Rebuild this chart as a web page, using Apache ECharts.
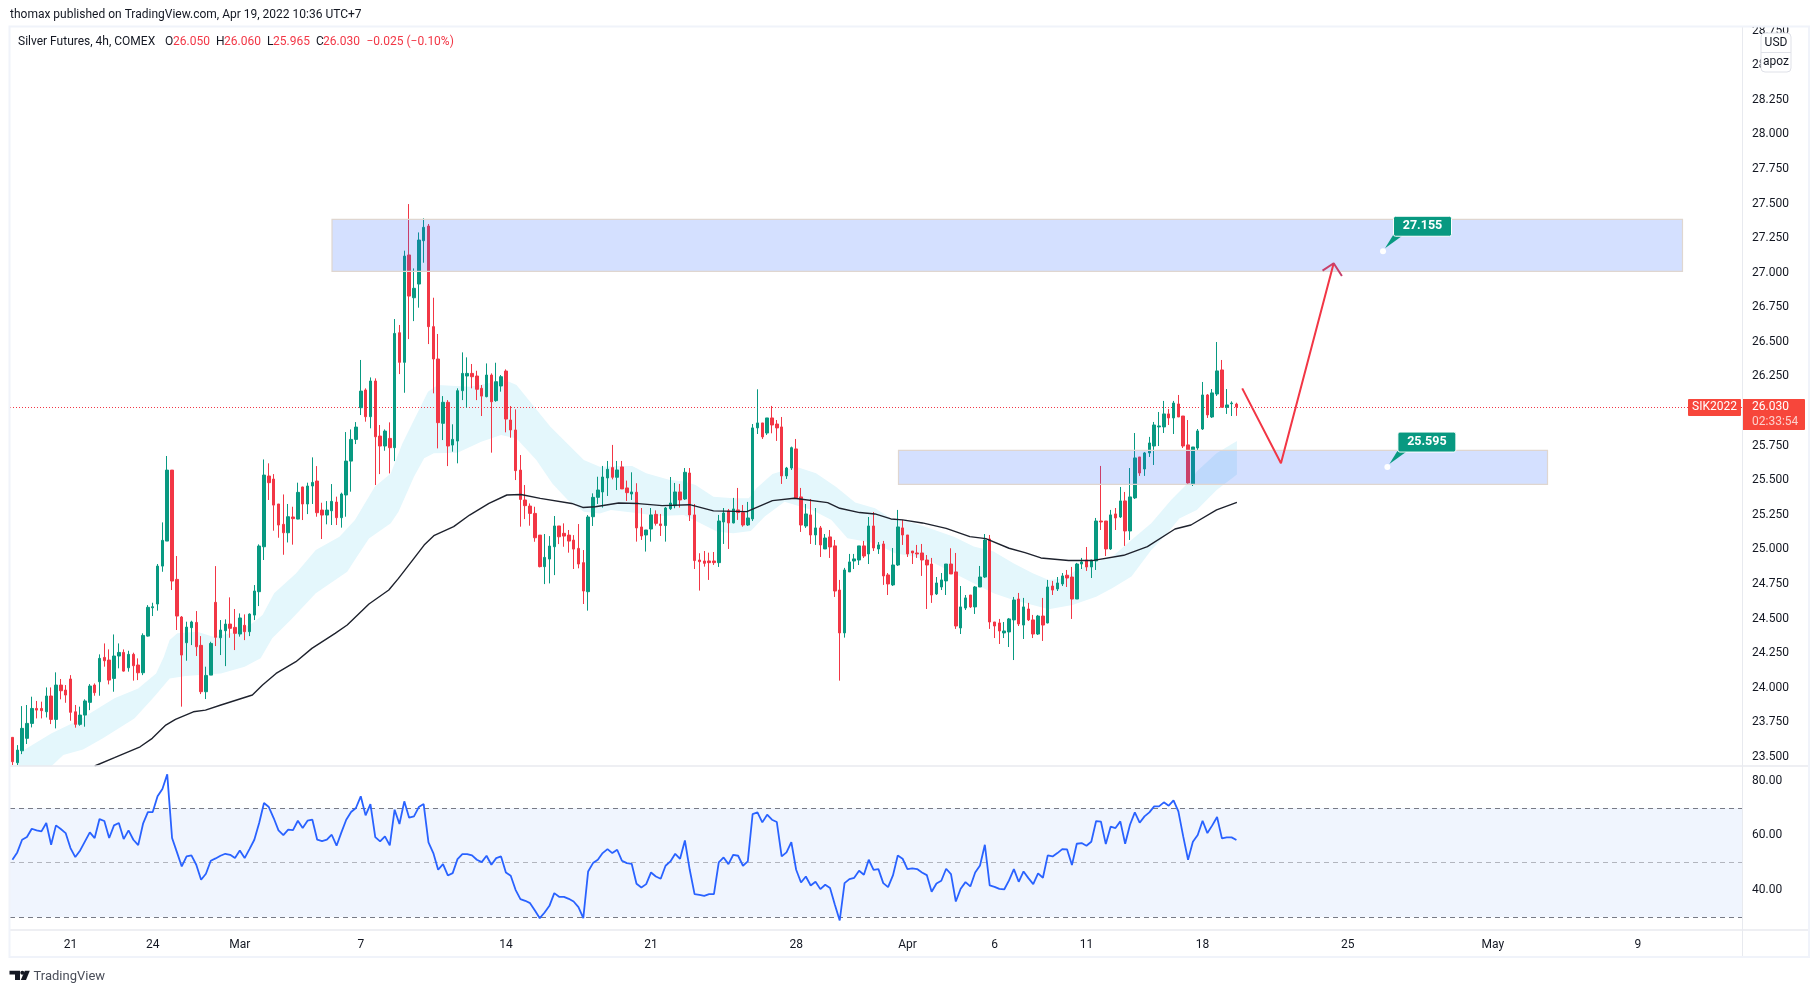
<!DOCTYPE html>
<html><head><meta charset="utf-8">
<style>html,body{margin:0;padding:0;background:#fff}#c{width:1820px;height:993px}</style>
<script src="https://cdn.jsdelivr.net/npm/echarts@6/dist/echarts.min.js"></script>
</head><body><div id="c"></div>
<script>
const bodyTop=[23.641,23.549,23.706,23.742,23.850,23.850,23.850,23.940,23.940,24.019,24.019,23.983,24.063,23.826,23.802,23.904,24.012,24.019,24.212,24.219,24.200,24.229,24.255,24.255,24.241,24.241,24.164,24.378,24.581,24.585,24.879,25.065,25.573,25.573,24.783,24.511,24.438,24.475,24.472,24.306,24.089,24.320,24.617,24.417,24.460,24.460,24.436,24.504,24.451,24.532,24.699,25.024,25.537,25.530,25.508,25.328,25.181,25.236,25.234,25.412,25.451,25.458,25.484,25.494,25.284,25.284,25.347,25.342,25.400,25.638,25.795,25.884,26.144,26.152,26.217,26.217,25.819,25.855,25.802,26.561,26.566,27.120,27.128,26.887,27.236,27.328,27.337,26.610,26.376,26.063,26.063,25.795,26.147,26.272,26.272,26.272,26.253,26.164,26.260,26.260,26.212,26.248,26.289,25.935,25.863,25.573,25.357,25.313,25.260,25.103,24.942,25.024,25.169,25.169,25.116,25.103,25.067,25.007,24.904,25.234,25.376,25.429,25.523,25.579,25.591,25.574,25.596,25.444,25.415,25.413,25.162,25.140,25.249,25.253,25.184,25.299,25.335,25.415,25.415,25.557,25.552,25.249,24.923,24.916,24.916,24.916,25.205,25.263,25.278,25.292,25.285,25.266,25.227,25.878,25.914,25.914,25.950,25.950,25.906,25.885,25.588,25.735,25.726,25.379,25.256,25.249,25.155,25.155,25.082,25.090,25.025,24.706,24.851,24.909,24.931,25.025,25.025,25.169,25.169,25.032,25.039,24.815,24.887,25.162,25.155,25.104,24.988,24.974,24.974,24.923,24.894,24.757,24.779,24.894,24.894,24.837,24.584,24.649,24.670,24.728,24.800,25.068,25.075,24.475,24.468,24.410,24.497,24.634,24.641,24.584,24.569,24.490,24.518,24.518,24.728,24.735,24.757,24.808,24.813,24.800,24.894,24.909,24.923,24.923,25.205,25.205,25.205,25.249,25.256,25.350,25.350,25.379,25.661,25.668,25.697,25.769,25.899,25.892,25.979,25.979,26.058,26.051,25.964,25.755,25.740,25.856,26.116,26.116,26.131,26.290,26.297,26.044,26.058,26.050];
const bodyBottom=[23.465,23.458,23.544,23.634,23.742,23.838,23.834,23.826,23.771,23.771,23.978,23.947,23.822,23.735,23.735,23.802,23.894,23.964,24.043,24.195,24.055,24.067,24.229,24.120,24.144,24.159,24.108,24.108,24.373,24.578,24.605,24.879,25.060,24.771,24.518,24.236,24.325,24.434,24.296,23.971,23.971,24.091,24.364,24.361,24.412,24.429,24.393,24.388,24.405,24.405,24.525,24.694,25.019,25.482,25.320,25.176,25.120,25.120,25.222,25.219,25.328,25.328,25.458,25.265,25.248,25.248,25.279,25.229,25.229,25.393,25.638,25.795,26.024,25.959,25.959,25.814,25.747,25.747,25.735,25.735,26.352,26.352,26.831,26.819,26.918,27.231,26.610,26.376,25.916,25.911,25.747,25.754,25.783,26.147,26.253,26.248,26.157,26.108,26.104,26.067,26.075,26.181,25.942,25.863,25.569,25.361,25.316,25.260,25.084,24.875,24.875,24.930,25.019,25.091,25.096,25.060,25.002,24.894,24.699,24.694,25.236,25.376,25.415,25.516,25.521,25.521,25.437,25.410,25.400,25.155,25.097,25.104,25.147,25.188,25.172,25.172,25.294,25.316,25.357,25.364,25.249,24.919,24.911,24.899,24.904,24.904,24.904,25.198,25.191,25.191,25.266,25.176,25.176,25.220,25.878,25.813,25.841,25.899,25.878,25.531,25.531,25.588,25.372,25.176,25.169,25.104,25.104,25.032,25.003,25.017,24.699,24.396,24.396,24.837,24.916,24.923,24.952,24.967,25.010,25.003,24.808,24.750,24.743,24.887,25.104,24.967,24.974,24.967,24.923,24.887,24.670,24.678,24.728,24.772,24.822,24.446,24.432,24.576,24.584,24.584,24.728,24.800,24.475,24.446,24.410,24.396,24.403,24.490,24.461,24.453,24.490,24.388,24.388,24.453,24.468,24.706,24.714,24.750,24.793,24.641,24.641,24.894,24.873,24.873,24.916,25.198,25.003,25.003,25.227,25.234,25.133,25.133,25.372,25.552,25.581,25.697,25.747,25.885,25.885,25.950,25.950,25.957,25.747,25.480,25.473,25.733,25.870,25.972,25.957,26.123,26.027,26.027,26.053,26.030];
const highs=[23.641,23.585,23.867,23.875,23.935,23.904,23.899,24.002,24.002,24.111,24.063,24.019,24.091,23.875,23.863,23.916,24.026,24.031,24.241,24.320,24.277,24.385,24.320,24.277,24.267,24.253,24.212,24.393,24.597,24.614,24.894,25.195,25.675,25.573,24.952,24.518,24.477,24.484,24.554,24.373,24.152,24.332,24.879,24.489,24.494,24.653,24.569,24.537,24.530,24.537,24.742,25.036,25.650,25.622,25.544,25.328,25.397,25.328,25.308,25.482,25.453,25.482,25.665,25.602,25.337,25.349,25.472,25.381,25.410,25.848,25.867,25.920,26.369,26.164,26.243,26.236,25.899,25.867,25.918,26.665,26.622,27.159,27.496,27.031,27.291,27.393,27.352,26.819,26.557,26.108,26.079,25.904,26.164,26.424,26.388,26.340,26.291,26.188,26.344,26.272,26.349,26.260,26.301,26.036,26.012,25.682,25.465,25.332,25.308,25.103,25.111,25.096,25.241,25.169,25.188,25.140,25.103,25.183,24.995,25.248,25.405,25.525,25.603,25.639,25.755,25.639,25.639,25.497,25.557,25.478,25.299,25.140,25.299,25.282,25.256,25.306,25.523,25.480,25.473,25.588,25.588,25.328,24.972,24.988,24.976,24.981,25.249,25.299,25.292,25.372,25.444,25.321,25.343,25.906,26.157,25.914,25.950,26.037,25.935,25.957,25.596,25.743,25.798,25.444,25.328,25.364,25.299,25.169,25.111,25.140,25.068,24.779,24.866,24.967,24.967,25.025,25.061,25.234,25.270,25.053,25.061,24.829,25.010,25.285,25.213,25.104,24.988,25.032,25.039,24.959,24.938,24.800,24.829,24.894,25.008,24.974,24.735,24.670,24.670,24.735,24.880,25.111,25.104,24.475,24.497,24.475,24.504,24.656,24.685,24.649,24.613,24.526,24.526,24.649,24.779,24.772,24.800,24.829,24.851,24.873,24.902,24.938,25.017,24.923,25.227,25.603,25.205,25.285,25.299,25.451,25.415,25.588,25.841,25.668,25.704,25.813,25.921,25.993,26.073,26.015,26.073,26.116,25.964,25.935,25.740,25.870,26.210,26.123,26.159,26.499,26.369,26.159,26.070,26.060];
const lows=[23.441,23.441,23.520,23.593,23.713,23.778,23.778,23.785,23.737,23.706,23.916,23.891,23.761,23.711,23.725,23.718,23.838,23.942,23.942,24.152,24.024,23.971,24.140,24.116,24.116,24.051,24.055,24.091,24.369,24.518,24.557,24.838,25.060,24.706,24.417,23.863,24.195,24.308,24.229,23.954,23.918,24.091,24.301,24.236,24.156,24.361,24.272,24.369,24.344,24.373,24.489,24.590,24.923,25.357,25.135,25.084,24.961,25.050,25.034,25.217,25.212,25.255,25.328,25.236,25.075,25.181,25.176,25.176,25.157,25.236,25.417,25.761,25.971,25.923,25.875,25.465,25.544,25.713,25.549,25.638,26.267,26.132,26.520,26.650,26.747,27.072,26.484,26.128,25.730,25.790,25.602,25.706,25.622,26.079,26.024,26.164,26.079,25.964,26.099,25.699,26.067,26.140,25.846,25.807,25.501,25.164,25.219,25.171,25.055,24.870,24.749,24.754,24.814,25.038,25.019,24.976,24.858,24.863,24.605,24.557,25.169,25.328,25.302,25.386,25.506,25.429,25.437,25.350,25.357,25.056,25.068,24.984,25.056,25.172,25.097,25.056,25.285,25.297,25.302,25.357,25.205,24.858,24.702,24.875,24.779,24.887,24.873,25.039,25.003,25.188,25.213,25.164,25.169,25.205,25.834,25.798,25.827,25.839,25.784,25.473,25.509,25.574,25.372,25.126,25.155,25.039,25.032,24.945,25.003,24.938,24.656,24.051,24.362,24.837,24.858,24.887,24.938,24.894,24.988,24.967,24.743,24.670,24.735,24.880,25.032,24.945,24.894,24.938,24.808,24.569,24.613,24.670,24.706,24.670,24.822,24.425,24.388,24.562,24.576,24.533,24.728,24.793,24.425,24.359,24.316,24.359,24.294,24.200,24.446,24.352,24.482,24.359,24.381,24.338,24.465,24.670,24.699,24.735,24.728,24.497,24.641,24.858,24.844,24.793,24.851,25.140,24.952,24.996,25.140,25.227,25.025,25.068,25.364,25.531,25.531,25.668,25.610,25.747,25.841,25.899,25.834,25.957,25.733,25.473,25.458,25.711,25.863,25.950,25.950,26.109,26.027,25.979,25.964,25.965];
const fallingCandles=[0,5,6,8,10,11,12,13,17,19,20,23,25,26,33,34,35,38,39,42,45,46,48,53,54,55,56,58,60,63,64,67,73,75,76,78,80,82,86,87,88,90,95,96,97,99,102,103,104,105,106,107,108,109,113,114,115,116,117,118,124,126,127,129,130,133,134,138,140,141,142,143,144,145,148,150,151,155,157,158,159,162,163,165,167,169,170,171,176,178,180,181,184,185,186,187,188,189,190,194,195,198,202,203,204,208,210,211,213,215,218,219,222,225,226,228,230,233,239,241,242,243,247,250,253];
const rsiValues=[51.04,53.73,58.38,59.36,62.41,61.80,61.44,64.49,56.54,63.64,62.29,60.82,55.32,52.02,54.46,57.77,61.07,59.0,65.96,65.23,59.0,63.64,64.49,58.62,61.80,58.38,56.42,64.25,68.53,68.53,74.28,76.97,82.35,59.0,53.85,48.59,52.26,52.63,49.21,43.70,45.90,50.67,51.53,52.51,53.24,52.87,51.65,54.46,51.65,54.95,58.38,64.49,71.83,70.36,66.33,61.80,60.09,62.05,61.93,65.35,62.66,65.35,65.72,58.38,57.89,58.38,60.21,56.18,61.07,65.72,68.53,70.0,74.28,67.31,71.46,59.36,57.77,59.60,56.30,69.39,64.13,72.44,66.45,66.94,70.36,71.46,57.40,53.49,47.37,49.45,45.29,46.15,51.28,53.12,53.12,52.63,51.04,50.18,52.51,49.21,51.65,52.26,46.39,45.17,40.03,36.61,36.0,35.14,32.45,29.64,31.72,34.16,38.81,37.46,37.46,36.73,35.75,33.67,29.64,46.76,49.82,51.04,53.49,54.95,53.49,54.71,50.67,49.82,49.57,42.24,40.89,42.11,46.39,44.92,44.07,48.84,50.43,53.24,51.41,58.13,47.37,38.44,38.2,37.83,38.44,38.44,50.06,51.90,49.45,52.87,52.51,48.84,50.43,67.80,68.41,64.74,67.55,65.72,64.86,52.26,53.73,57.52,47.37,42.72,44.92,41.62,42.97,40.28,41.87,40.65,34.53,28.78,42.48,43.95,44.44,47.0,45.54,51.04,47.37,47.62,42.48,41.01,45.29,52.63,51.41,47.62,47.86,47.62,46.39,45.41,39.30,42.36,43.34,47.74,45.78,35.75,40.40,42.85,41.26,46.39,48.96,56.54,41.62,41.13,40.40,40.16,43.46,47.62,42.97,46.76,44.31,42.11,46.03,44.44,52.63,52.26,53.49,54.95,54.83,49.08,56.91,57.16,56.18,57.65,65.23,64.98,56.79,63.15,62.66,65.10,56.91,63.88,68.41,64.62,66.94,68.41,70.61,70.61,72.08,70.85,72.81,68.77,59.60,51.04,57.65,60.09,65.35,60.82,63.64,66.69,58.87,59.23,59.23,58.26];

const emaX=[17.0,21.1,26.4,28.9,31.7,33.7,37.4,39.9,43.1,49.6,51.7,54.5,58.6,61.9,66.7,69.2,73.7,77.8,79.8,83.0,85.1,87.1,91.2,94.5,98.5,102.2,105.1,109.1,115.6,117.9,120.5,125.3,129.4,134.3,140.0,144.9,151.8,157.1,161.6,168.5,171.0,175.1,178.3,181.6,184.0,188.1,193.0,197.9,201.2,206.0,209.3,212.6,218.3,223.2,229.7,234.6,240.3,243.6,248.9,253.1];
const emaY=[23.434,23.494,23.573,23.634,23.730,23.771,23.826,23.838,23.875,23.947,24.019,24.103,24.188,24.284,24.393,24.453,24.605,24.706,24.790,24.935,25.031,25.099,25.164,25.248,25.332,25.393,25.397,25.369,25.332,25.303,25.308,25.335,25.331,25.316,25.323,25.278,25.273,25.352,25.369,25.338,25.297,25.266,25.256,25.220,25.213,25.191,25.152,25.092,25.078,25.008,24.976,24.938,24.919,24.919,24.957,25.020,25.147,25.176,25.285,25.340];
const bandUpperX=[1.1,2.4,8.1,13.8,21.1,26.0,29.7,31.3,32.5,34.1,38.2,41.5,46.4,49.6,51.7,54.1,58.6,62.7,67.6,70.8,74.9,78.2,80.6,83.0,85.9,87.9,94.5,98.5,101.8,104.2,106.7,111.2,118.1,121.4,125.3,128.1,131.0,135.9,138.8,141.2,144.9,149.0,152.2,153.8,157.1,162.0,166.1,170.2,174.2,178.3,181.6,186.5,190.6,194.6,198.7,202.8,206.9,210.9,214.2,217.5,219.9,224.0,227.3,231.3,235.4,239.5,243.6,244.8,248.9,253.1];
const bandUpperY=[23.513,23.549,23.670,23.766,23.923,23.995,24.103,24.224,24.344,24.393,24.405,24.369,24.405,24.465,24.525,24.682,24.826,24.995,25.091,25.212,25.453,25.549,25.766,25.935,26.140,26.188,26.176,26.200,26.224,26.188,26.079,25.887,25.646,25.597,25.603,25.603,25.550,25.502,25.490,25.466,25.381,25.369,25.369,25.441,25.545,25.598,25.550,25.453,25.338,25.297,25.225,25.188,25.140,25.092,25.020,24.984,24.899,24.827,24.779,24.791,24.851,24.911,24.947,25.068,25.188,25.357,25.502,25.562,25.694,25.783];
const bandLowerX=[1.1,8.1,10.5,14.6,18.7,25.2,29.3,32.5,35.8,43.1,48.0,51.3,53.7,57.8,62.7,69.2,71.2,73.7,78.2,79.8,83.0,85.1,87.1,92.0,96.9,101.0,104.2,108.3,111.6,114.8,118.1,121.4,123.7,129.4,133.5,138.8,141.6,145.7,149.0,152.6,155.5,159.6,165.3,169.3,172.6,178.3,182.4,186.5,190.6,194.6,198.7,202.8,206.9,210.9,214.2,219.1,224.0,227.3,231.3,235.4,238.7,241.2,244.8,248.9,253.1];
const bandLowerY=[23.434,23.434,23.513,23.554,23.634,23.778,23.935,24.067,24.084,24.103,24.152,24.212,24.357,24.501,24.682,24.838,24.947,25.079,25.188,25.272,25.525,25.658,25.694,25.699,25.778,25.826,25.802,25.646,25.477,25.357,25.272,25.260,25.285,25.261,25.241,25.249,25.200,25.128,25.116,25.133,25.237,25.345,25.285,25.213,25.080,25.044,24.972,24.947,24.899,24.827,24.755,24.682,24.634,24.598,24.567,24.598,24.658,24.718,24.803,24.996,25.116,25.224,25.285,25.429,25.542];

const zones=[[66.06,27.386,345.2,27.01],[183.15,25.716,317.3,25.47]];
const projectionX=[254.2,262.2,273.1];
const projectionY=[26.164,25.622,27.068];
const arrowHeadX=[270.8,273.1,274.8];
const arrowHeadY=[27.015,27.068,26.976];
const callouts=[[283.3,27.155],[284.2,25.595]];
const lastClose=26.030, countdown='02:33:54', symbolTag='SIK2022';

const priceTicks=[23.5,23.75,24,24.25,24.5,24.75,25,25.25,25.5,25.75,26,26.25,26.5,26.75,27,27.25,27.5,27.75,28,28.25,28.5,28.75];
const rsiTicks=[40,60,80];
const rsiLevels=[70,50,30];
const timeTickIndex=[12,29,47,72,102,132,162,185,203,222,246,276,306,336];
const timeTickLabels=['21','24','Mar','7','14','21','28','Apr','6','11','18','25','May','9'];
const barSlots=358;

const GREEN='#089981',RED='#f23645',TAG='#f7463b',INK='#131722',FONT='Roboto, "Liberation Sans", sans-serif';
const falling=new Set(fallingCandles);
const candles=bodyTop.map((t,i)=>falling.has(i)?[t,bodyBottom[i],lows[i],highs[i]]:[bodyBottom[i],t,lows[i],highs[i]]);
const cats=Array.from({length:barSlots},(_,i)=>String(i));
const zip=(a,b)=>a.map((v,i)=>[v,b[i]]);

const txt=(x,y,text,fill,extra)=>({type:'text',x,y,z:110,silent:true,style:Object.assign({text,fill,font:'12px '+FONT,textVerticalAlign:'middle'},extra||{})});
const hline=(x1,y,x2,c,w)=>({type:'line',z:105,silent:true,shape:{x1,y1:y,x2,y2:y},style:{stroke:c,lineWidth:w}});
const vline=(x,y1,y2,c,w)=>({type:'line',z:105,silent:true,shape:{x1:x,y1,x2:x,y2},style:{stroke:c,lineWidth:w}});
const FR='#f0f3fa',SEP='#e8eaef';
const L=10,R=1742,T=27,D=766,B=930,BOT=957,RR=1809;

const chart=echarts.init(document.getElementById('c'),null,{renderer:'canvas'});
chart.setOption({
 animation:false,
 backgroundColor:'#fff',
 grid:[{left:L,top:T,width:R-L,height:D-T},{left:L,top:D,width:R-L,height:B-D}],
 xAxis:[
  {type:'category',gridIndex:0,data:cats,show:false,boundaryGap:true},
  {type:'category',gridIndex:1,data:cats,boundaryGap:true,axisLine:{show:false},axisTick:{show:false},splitLine:{show:false},
   axisLabel:{margin:9,color:INK,fontFamily:FONT,fontSize:12,
    interval:i=>timeTickIndex.includes(i),
    formatter:(v,i)=>{const k=timeTickIndex.indexOf(+v);return k<0?'':timeTickLabels[k];}}},
  {type:'value',gridIndex:0,show:false,min:-0.5,max:barSlots-0.5,splitLine:{show:false}}
 ],
 yAxis:[
  {type:'value',gridIndex:0,position:'right',min:23.434,max:28.776,scale:true,axisLine:{show:false},axisTick:{show:false},splitLine:{show:false},
   axisLabel:{margin:10,color:INK,fontFamily:FONT,fontSize:12,padding:[2,0,0,0],customValues:priceTicks,showMinLabel:true,showMaxLabel:true,formatter:v=>(+v).toFixed(3)}},
  {type:'value',gridIndex:1,position:'right',min:25.3,max:85.4,axisLine:{show:false},axisTick:{show:false},splitLine:{show:false},
   axisLabel:{margin:10,color:INK,fontFamily:FONT,fontSize:12,padding:[2,0,0,0],customValues:rsiTicks,formatter:v=>(+v).toFixed(2)}}
 ],
 series:[
  {type:'custom',name:'band',xAxisIndex:2,yAxisIndex:0,z:1,clip:true,silent:true,data:[[0,26]],
   renderItem:(p,api)=>{
    const pts=zip(bandUpperX,bandUpperY).concat(zip(bandLowerX,bandLowerY).reverse()).map(v=>api.coord(v));
    return {type:'polygon',shape:{points:pts},style:{fill:'#e4f7fc'}};
   }},
  {type:'candlestick',name:'Silver Futures',xAxisIndex:0,yAxisIndex:0,z:2,barWidth:3,silent:true,data:candles,
   itemStyle:{color:GREEN,color0:RED,borderColor:GREEN,borderColor0:RED,borderWidth:1},
   markLine:{silent:true,symbol:'none',label:{show:false},z:2,lineStyle:{color:RED,type:[1,2],width:1},data:[{yAxis:lastClose}]}},
  {type:'line',name:'EMA',xAxisIndex:2,yAxisIndex:0,z:3,silent:true,symbol:'none',data:zip(emaX,emaY),lineStyle:{color:'#1e222d',width:1.4}},
  {type:'custom',name:'zones',xAxisIndex:2,yAxisIndex:0,z:4,silent:true,data:zones,encode:{x:[0,2],y:[1,3]},
   renderItem:(p,api)=>{
    const a=api.coord([api.value(0),api.value(1)]),b=api.coord([api.value(2),api.value(3)]);
    return {type:'rect',shape:{x:a[0],y:a[1],width:b[0]-a[0],height:b[1]-a[1]},style:{fill:'rgba(41,98,255,0.2)',stroke:'#dfd6d0',lineWidth:1.2}};
   }},
  {type:'line',name:'projection',xAxisIndex:2,yAxisIndex:0,z:5,silent:true,symbol:'none',data:zip(projectionX,projectionY),lineStyle:{color:RED,width:2}},
  {type:'line',name:'arrow',xAxisIndex:2,yAxisIndex:0,z:5,silent:true,symbol:'none',data:zip(arrowHeadX,arrowHeadY),lineStyle:{color:'#c8406a',width:2}},
  {type:'custom',name:'callouts',xAxisIndex:2,yAxisIndex:0,z:6,silent:true,data:callouts,
   renderItem:(p,api)=>{
    const c=api.coord([api.value(0),api.value(1)]),x=c[0],y=c[1];
    return {type:'group',children:[
     {type:'polygon',shape:{points:[[x+2,y-3],[x+10,y-16],[x+20,y-16]]},style:{fill:GREEN}},
     {type:'rect',shape:{x:x+10.5,y:y-35,width:58,height:20,r:2},style:{fill:GREEN,stroke:'#fff',lineWidth:1}},
     {type:'text',x:x+39.5,y:y-25,style:{text:api.value(1).toFixed(3),fill:'#fff',font:'bold 12.5px '+FONT,textAlign:'center',textVerticalAlign:'middle'}},
     {type:'circle',shape:{cx:x,cy:y,r:3},style:{fill:'#fff'}}
    ]};
   }},
  {type:'custom',name:'lastPrice',xAxisIndex:2,yAxisIndex:0,z:8,silent:true,data:[[0,lastClose]],
   renderItem:(p,api)=>{
    const y=api.coord([0,api.value(1)])[1],r=p.coordSys.x+p.coordSys.width;
    return {type:'group',children:[
     {type:'rect',shape:{x:r-54,y:y-8,width:53,height:17,r:1},style:{fill:TAG}},
     {type:'text',x:r-27.5,y:y+0.5,style:{text:symbolTag,fill:'#fff',font:'12px '+FONT,textAlign:'center',textVerticalAlign:'middle'}},
     {type:'rect',shape:{x:r,y:y-8,width:63,height:31,r:1},style:{fill:TAG}},
     {type:'text',x:r+10,y:y+0.5,style:{text:lastClose.toFixed(3),fill:'#fff',font:'12px '+FONT,textVerticalAlign:'middle'}},
     {type:'text',x:r+10,y:y+15,style:{text:countdown,fill:'#fcd0cc',font:'12px '+FONT,textVerticalAlign:'middle'}}
    ]};
   }},
  {type:'line',name:'RSI',xAxisIndex:1,yAxisIndex:1,z:3,silent:true,symbol:'none',data:rsiValues,lineStyle:{color:'#2962ff',width:1.8},
   markArea:{silent:true,z:1,itemStyle:{color:'#f0f5fe'},data:[[{yAxis:rsiLevels[2]},{yAxis:rsiLevels[0]}]]},
   markLine:{silent:true,symbol:'none',label:{show:false},z:2,data:[
    {yAxis:rsiLevels[0],lineStyle:{color:'#787b86',type:[5,4],width:1}},
    {yAxis:rsiLevels[1],lineStyle:{color:'#b2b5be',type:[5,4],width:1}},
    {yAxis:rsiLevels[2],lineStyle:{color:'#787b86',type:[5,4],width:1}}]}}
 ],
 graphic:{elements:[
  {type:'rect',z:100,silent:true,shape:{x:0,y:0,width:1820,height:T},style:{fill:'#fff'}},
  hline(L,D,R,SEP,1.5),hline(L,B,RR,SEP,1.5),vline(R+0.5,T,BOT,SEP,1),hline(R,D,RR,SEP,1.5),
  {type:'rect',z:106,silent:true,shape:{x:L-0.5,y:T-0.5,width:RR-L+0.5,height:BOT-T+0.5},style:{fill:'none',stroke:FR,lineWidth:2}},
  txt(10,15,'thomax published on TradingView.com, Apr 19, 2022 10:36 UTC+7','#131722'),
  txt(18,42,'Silver Futures, 4h, COMEX','#131722'),
  txt(165,42,'O','#131722'),txt(173,42,'26.050',RED),
  txt(216,42,'H','#131722'),txt(224,42,'26.060',RED),
  txt(267,42,'L','#131722'),txt(273,42,'25.965',RED),
  txt(316,42,'C','#131722'),txt(323,42,'26.030',RED),
  txt(366.5,42,'\u22120.025',RED),txt(406.5,42,'(\u22120.10%)',RED),
  {type:'rect',z:108,silent:true,shape:{x:1761,y:33,width:30,height:39,r:4},style:{fill:'#fff',stroke:'#dfe1e8',lineWidth:1}},
  Object.assign(hline(1761,52.5,1791,'#dfe1e8',1),{z:109}),
  txt(1776,43,'USD','#131722',{textAlign:'center'}),
  txt(1776,61.5,'apoz','#131722',{textAlign:'center'}),
  {type:'polygon',z:110,silent:true,shape:{points:[[9.5,970.7],[20,970.7],[20,980],[15,980],[15,974.5],[9.5,974.5]]},style:{fill:'#131722'}},
  {type:'circle',z:110,silent:true,shape:{cx:22.3,cy:972.7,r:2},style:{fill:'#131722'}},
  {type:'polygon',z:110,silent:true,shape:{points:[[24.8,970.7],[29.8,970.7],[26,980],[20.8,980]]},style:{fill:'#131722'}},
  txt(33.5,976.5,'TradingView','#4a4e59',{font:'13px '+FONT})
 ]}
});
</script></body></html>
